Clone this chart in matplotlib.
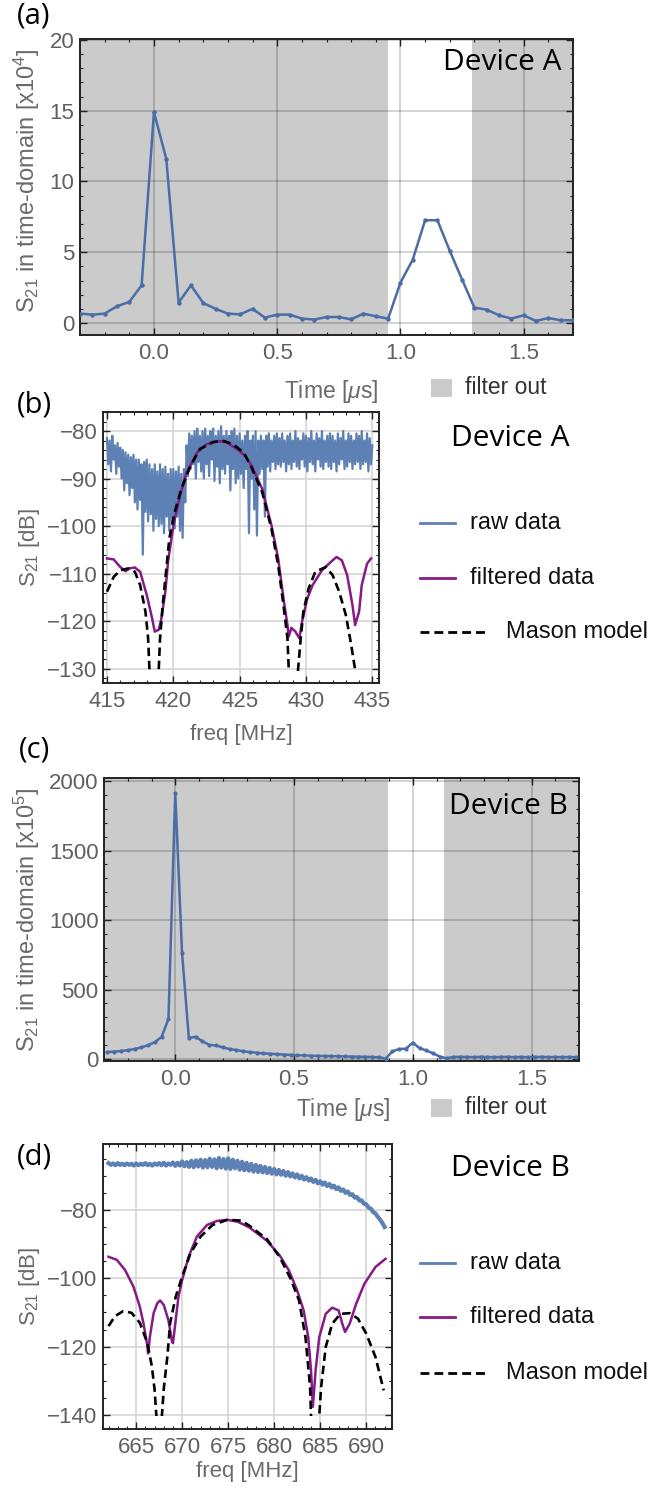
import numpy as np
import matplotlib
matplotlib.use("Agg")
import matplotlib.pyplot as plt
from matplotlib.patches import Rectangle
from matplotlib.lines import Line2D
from matplotlib.ticker import MultipleLocator, FormatStrFormatter

# ---- (a) Device A, time domain (x1e4) ----
t_a = np.round(np.arange(-0.30, 1.701, 0.05), 2)
s21_time_a = [0.66, 0.59, 0.66, 1.18, 1.49, 2.66,
              14.9, 11.6, 1.44, 2.66, 1.41, 1.0, 0.66, 0.61, 1.0, 0.38,
              0.59, 0.59, 0.31, 0.24, 0.42, 0.42, 0.26, 0.66, 0.47, 0.31,
              2.85, 4.48, 7.26, 7.26, 5.1, 3.07, 1.08, 0.94, 0.54, 0.31,
              0.54, 0.14, 0.35, 0.19, 0.19]
filter_out_a = [(-0.30, 0.95), (1.29, 1.70)]

# ---- (b) Device A, frequency domain ----
freq_raw_b = np.round(np.arange(415.0, 435.01, 0.1), 1)
s21_raw_b = [
    -81.5, -87.0, -82.0, -88.5, -81.0, -86.0, -83.0, -89.0, -82.5, -87.5,
    -83.5, -90.0, -84.0, -92.5, -84.5, -91.0, -85.0, -93.5, -85.5, -92.0,
    -85.0, -95.0, -86.0, -96.5, -86.0, -94.5, -87.0, -106.0, -86.5, -97.0,
    -86.0, -99.0, -87.0, -97.5, -88.0, -101.0, -87.0, -98.5, -88.5, -100.0,
    -87.0, -99.5, -88.0, -101.5, -87.5, -98.0, -89.0, -101.0, -88.0, -99.0,
    -88.0, -100.5, -88.5, -98.0, -87.5, -101.0, -89.0, -102.5, -88.0, -95.0,
    -83.0, -89.5, -80.5, -88.0, -81.0, -87.0, -80.0, -90.0, -79.5, -86.5,
    -81.0, -88.5, -80.0, -90.0, -79.5, -87.0, -81.0, -89.5, -80.0, -86.0,
    -79.5, -90.5, -81.0, -87.5, -80.0, -91.0, -79.0, -88.0, -81.0, -89.0,
    -80.0, -87.0, -81.0, -92.5, -80.0, -88.0, -79.5, -91.0, -81.0, -90.0,
    -80.5, -89.0, -82.0, -92.0, -81.0, -88.0, -80.0, -101.5, -82.0, -90.0,
    -81.0, -96.5, -80.0, -102.0, -82.0, -89.0, -81.0, -88.0, -82.0, -98.0,
    -81.0, -87.5, -80.5, -88.5, -82.0, -86.5, -81.0, -88.0, -80.5, -87.0,
    -81.5, -87.5, -80.5, -86.5, -82.0, -88.5, -81.0, -87.0, -80.5, -88.0,
    -82.0, -86.5, -80.0, -87.5, -81.5, -88.0, -82.0, -86.0, -80.5, -87.5,
    -81.0, -88.5, -81.5, -86.5, -80.0, -87.0, -82.0, -88.5, -80.5, -86.0,
    -81.5, -87.5, -80.0, -88.0, -82.0, -86.5, -81.0, -87.5, -80.5, -88.0,
    -81.0, -86.5, -82.0, -88.5, -80.5, -87.0, -81.5, -86.0, -80.0, -88.0,
    -82.0, -87.5, -80.5, -86.5, -81.0, -88.0, -82.0, -87.0, -80.5, -86.5,
    -81.0, -88.0, -80.0, -87.0, -82.0, -86.5, -80.5, -88.5, -81.5, -87.0,
    -83.0]

freq_filt_b = [415.0, 415.5, 416.0, 416.4, 416.7, 417.1, 417.5, 418.0, 418.4, 418.6,
               418.9, 419.1, 419.4, 419.6, 420.0, 420.5, 421.0, 421.8, 422.5, 423.4,
               424.0, 424.8, 425.4, 425.9, 426.7, 427.4, 427.9, 428.3, 428.6, 428.7,
               428.9, 429.2, 429.5, 429.7, 430.1, 430.5, 431.2, 432.0, 432.3, 432.7,
               433.1, 433.5, 433.7, 434.0, 434.2, 434.6, 434.9]
s21_filt_b = [-106.8, -107.0, -108.6, -109.5, -108.9, -108.7, -109.6, -114.5, -119.4, -122.2,
              -121.8, -119.4, -113.8, -107.5, -99.9, -93.6, -88.7, -84.5, -82.8, -82.1,
              -82.4, -83.8, -85.2, -87.3, -92.2, -99.9, -106.8, -115.2, -120.8, -123.2,
              -121.4, -122.2, -123.6, -120.1, -115.2, -112.4, -109.3, -107.2, -106.5, -107.2,
              -110.3, -116.6, -120.8, -118.0, -112.4, -107.9, -106.8]

freq_mason_b = [415.0, 415.5, 416.0, 416.6, 417.1, 417.5, 417.9, 418.1, 418.2, 418.55,
                418.9, 419.0, 419.2, 419.5, 419.7, 420.1, 420.6, 421.3, 422.0, 423.0,
                423.8, 424.5, 425.3, 425.9, 426.7, 427.4, 427.9, 428.3, 428.6, 428.7,
                429.05, 429.4, 429.6, 429.8, 430.2, 430.7, 431.5, 432.0, 432.5, 433.0,
                433.4, 433.7, 434.1, 434.6, 435.0]
s21_mason_b = [-113.8, -110.7, -109.3, -108.9, -109.6, -112.4, -118.0, -123.6, -130.2, -150.0,
               -130.2, -123.6, -116.6, -108.2, -102.6, -97.1, -92.2, -87.3, -83.8, -82.3,
               -82.1, -82.8, -84.5, -87.7, -92.9, -100.6, -108.2, -116.6, -123.6, -130.2,
               -150.0, -130.2, -123.6, -118.0, -113.1, -109.6, -108.6, -110.3, -113.8, -118.7,
               -124.9, -130.2, -150.0, -140.0, -136.0]

# ---- (c) Device B, time domain (x1e5) ----
t_c = np.arange(-10, 60) / 35.0
s21_time_c = [50, 54, 58, 64, 72, 84, 100, 122, 160, 290,
              1915, 765, 152, 160, 128, 102, 98, 84, 72, 65,
              56, 50, 45, 41, 38, 35, 32, 30, 28, 26,
              24, 23, 22, 21, 20, 19, 18, 17, 16, 15,
              13, 3, 55, 72, 75, 118, 78, 62, 40, 18,
              5, 15, 16, 15, 14, 16, 15, 14, 15, 16,
              14, 15, 14, 15, 16, 14, 15, 14, 15, 14]
filter_out_c = [(-0.30, 0.894), (1.13, 1.70)]

# ---- (d) Device B, frequency domain ----
freq_raw_d = np.arange(662.0, 692.01, 0.25)
s21_raw_d = [
    -66.3, -66.8, -66.4, -66.9, -66.3, -66.8, -66.5, -66.9, -66.4, -66.8,
    -66.5, -67.0, -66.4, -66.9, -66.5, -66.8, -66.3, -66.9, -66.5, -67.0,
    -66.4, -66.8, -66.3, -66.9, -66.2, -67.0, -66.4, -66.8, -66.1, -67.1,
    -66.2, -67.0,
    -65.8, -67.2, -66.0, -67.4, -65.6, -67.5, -65.5, -67.3, -65.3, -67.6,
    -65.4, -67.5, -65.0, -67.4, -65.2, -67.8, -64.8, -67.6, -65.1, -67.9,
    -64.9, -68.0, -65.3, -67.8, -65.6, -68.2, -65.9, -68.4, -66.2, -68.5,
    -66.5, -68.8,
    -66.8, -68.9, -67.1, -69.0, -67.4, -69.2, -67.7, -69.4, -68.0, -69.6,
    -68.3, -69.7, -68.6, -70.0, -68.9, -70.2, -69.3, -70.5, -69.6, -70.8,
    -70.0, -71.1, -70.4, -71.4, -70.8, -71.8, -71.2, -72.2, -71.6, -72.6,
    -72.0, -73.0,
    -72.4, -73.4, -72.9, -73.9, -73.4, -74.4, -74.0, -75.0, -74.6, -75.6,
    -75.4, -76.4, -76.2, -77.2, -77.2, -78.2, -78.3, -79.3, -79.6, -80.6,
    -81.0, -82.0, -82.8, -83.8, -85.0]

freq_filt_d = [662.0, 662.9, 663.8, 664.7, 665.4, 665.8, 666.2, 666.3, 666.5, 666.9,
               667.3, 667.6, 668.0, 668.5, 668.9, 669.0, 669.3, 669.6, 670.0, 670.7,
               671.6, 672.7, 673.8, 674.9, 676.0, 677.3, 679.2, 680.6, 681.6, 682.5,
               683.2, 683.7, 684.0, 684.2, 684.5, 684.9, 685.6, 686.3, 687.0, 687.4,
               687.7, 688.2, 688.9, 689.8, 691.0, 692.1]
s21_filt_d = [-93.7, -94.6, -97.6, -102.4, -108.3, -113.2, -119.5, -122.0, -117.0, -110.2,
              -107.3, -106.5, -107.8, -112.2, -118.5, -119.0, -112.2, -105.4, -100.5, -93.7,
              -87.8, -84.4, -83.2, -82.9, -83.4, -85.1, -89.0, -93.3, -97.7, -103.6,
              -109.4, -117.2, -126.9, -137.6, -126.9, -117.2, -110.4, -108.6, -109.4, -113.3,
              -115.7, -113.3, -107.5, -101.6, -96.7, -94.3]

freq_mason_d = [662.0, 662.7, 663.6, 664.5, 665.4, 666.2, 666.7, 667.0, 667.2, 667.5,
                667.8, 668.0, 668.4, 668.7, 669.3, 670.0, 670.9, 672.0, 673.3, 674.9,
                676.4, 677.3, 679.2, 680.6, 681.8, 682.7, 683.4, 683.9, 684.0, 684.45,
                684.9, 685.1, 685.6, 686.3, 687.2, 688.2, 689.1, 690.0, 691.0, 691.9]
s21_mason_d = [-114.0, -111.1, -109.6, -110.1, -113.0, -118.8, -125.6, -132.4, -140.2, -155.0,
               -140.2, -132.4, -122.7, -113.0, -105.4, -99.5, -92.7, -87.8, -84.4, -82.9,
               -83.1, -84.6, -88.5, -93.8, -100.2, -106.5, -117.2, -131.8, -140.2, -155.0,
               -140.2, -131.8, -120.1, -113.3, -110.4, -110.2, -111.8, -116.2, -123.0, -132.8]

legend_labels = ["raw data", "filtered data", "Mason model"]

# ---- style ----
TIME_C = "#4A6DA7"
RAW_C = "#5E81B5"
FILT_C = "#861A86"
SHADE_C = "#CBCBCB"
TICK_C = "#606060"
LABEL_C = "#6A6A6A"

plt.rcParams.update({
    "font.family": ["Liberation Sans", "DejaVu Sans"],
    "mathtext.fontset": "custom",
    "mathtext.rm": "Liberation Sans",
    "mathtext.it": "Liberation Sans:italic",
    "axes.linewidth": 1.4,
    "axes.edgecolor": "#222222",
})

W, H = 671, 1494
fig = plt.figure(figsize=(W / 100, H / 100), dpi=100)


def rect(l, t, r, b):
    return [l / W, 1 - b / H, (r - l) / W, (b - t) / H]


def style_axes(ax, grid_kw):
    ax.grid(True, **grid_kw)
    ax.tick_params(which="both", direction="in", top=True, right=True,
                   color="#222222", labelcolor=TICK_C, labelsize=16)
    ax.tick_params(which="major", length=5, width=1.0)
    ax.tick_params(which="minor", length=2.5, width=0.8)
    ax.tick_params(axis="y", pad=4)
    ax.tick_params(axis="x", pad=6)


shade_grid = dict(color="black", alpha=0.22, linewidth=1.1)
light_grid = dict(color="#D2D2D2", linewidth=1.1)

# (a)
ax_a = fig.add_axes(rect(80, 39, 573, 335))
for x0, x1 in filter_out_a:
    ax_a.axvspan(x0, x1, color=SHADE_C, lw=0, zorder=0.5)
ax_a.plot(t_a, s21_time_a, color=TIME_C, lw=1.8, marker="o", ms=2.2, zorder=3)
ax_a.set_xlim(-0.3, 1.7)
ax_a.set_ylim(-0.85, 20.07)
ax_a.set_xticks([0.0, 0.5, 1.0, 1.5])
ax_a.xaxis.set_major_formatter(FormatStrFormatter("%.1f"))
ax_a.xaxis.set_minor_locator(MultipleLocator(0.1))
ax_a.set_yticks([0, 5, 10, 15, 20])
ax_a.yaxis.set_minor_locator(MultipleLocator(1))
style_axes(ax_a, shade_grid)
ax_a.set_xlabel(r"Time [$\mu$s]", fontsize=16.5, color=LABEL_C)
ax_a.xaxis.set_label_coords(0.509, -0.145)
ax_a.set_ylabel(r"S$_{21}$ in time-domain [x10$^{4}$]", fontsize=17, color=LABEL_C)
ax_a.yaxis.set_label_coords(-0.077, 0.52)
ax_a.text(0.977, 0.968, "Device A", transform=ax_a.transAxes, ha="right", va="top",
          fontsize=21.5, family="Open Sans", color="black")

# (b)
ax_b = fig.add_axes(rect(103, 412, 379, 683))
ax_b.plot(freq_raw_b, s21_raw_b, color=RAW_C, lw=1.6, zorder=2)
ax_b.plot(freq_filt_b, s21_filt_b, color=FILT_C, lw=1.8, zorder=3)
mb, = ax_b.plot(freq_mason_b, s21_mason_b, color="black", lw=1.9, dashes=(3.2, 1.8), zorder=4)
mb.set_clip_path(Rectangle((414, -130.4), 30, 60, transform=ax_b.transData))
ax_b.set_xlim(414.7, 435.5)
ax_b.set_ylim(-133, -76)
ax_b.set_xticks([415, 420, 425, 430, 435])
ax_b.set_yticks([-80, -90, -100, -110, -120, -130])
ax_b.xaxis.set_minor_locator(MultipleLocator(1))
ax_b.yaxis.set_minor_locator(MultipleLocator(2))
style_axes(ax_b, light_grid)
ax_b.set_xlabel("freq [MHz]", fontsize=16, color=LABEL_C)
ax_b.xaxis.set_label_coords(0.5, -0.15)
ax_b.set_ylabel(r"S$_{21}$ [dB]", fontsize=16, color=LABEL_C)
ax_b.yaxis.set_label_coords(-0.221, 0.5)

# (c)
ax_c = fig.add_axes(rect(104, 778, 579, 1061))
for x0, x1 in filter_out_c:
    ax_c.axvspan(x0, x1, color=SHADE_C, lw=0, zorder=0.5)
ax_c.plot(t_c, s21_time_c, color=TIME_C, lw=1.8, marker="o", ms=2.0, zorder=3)
ax_c.set_xlim(-0.3, 1.7)
ax_c.set_ylim(-14, 2022)
ax_c.set_xticks([0.0, 0.5, 1.0, 1.5])
ax_c.xaxis.set_major_formatter(FormatStrFormatter("%.1f"))
ax_c.xaxis.set_minor_locator(MultipleLocator(0.1))
ax_c.set_yticks([0, 500, 1000, 1500, 2000])
ax_c.yaxis.set_minor_locator(MultipleLocator(100))
style_axes(ax_c, shade_grid)
ax_c.set_xlabel(r"Time [$\mu$s]", fontsize=16.5, color=LABEL_C)
ax_c.xaxis.set_label_coords(0.503, -0.125)
ax_c.set_ylabel(r"S$_{21}$ in time-domain [x10$^{5}$]", fontsize=17, color=LABEL_C)
ax_c.yaxis.set_label_coords(-0.131, 0.5)
ax_c.text(0.977, 0.95, "Device B", transform=ax_c.transAxes, ha="right", va="top",
          fontsize=21.5, family="Open Sans", color="black")

# (d)
ax_d = fig.add_axes(rect(103, 1144, 392, 1429))
ax_d.plot(freq_raw_d, s21_raw_d, color=RAW_C, lw=3.0, zorder=2)
ax_d.plot(freq_filt_d, s21_filt_d, color=FILT_C, lw=1.8, zorder=3)
md, = ax_d.plot(freq_mason_d, s21_mason_d, color="black", lw=1.9, dashes=(3.2, 1.8), zorder=4)
md.set_clip_path(Rectangle((660, -140.4), 40, 90, transform=ax_d.transData))
ax_d.set_xlim(661.4, 692.8)
ax_d.set_ylim(-144.1, -60.7)
ax_d.set_xticks([665, 670, 675, 680, 685, 690])
ax_d.set_yticks([-80, -100, -120, -140])
ax_d.xaxis.set_minor_locator(MultipleLocator(1))
ax_d.yaxis.set_minor_locator(MultipleLocator(5))
style_axes(ax_d, light_grid)
ax_d.set_xlabel("freq [MHz]", fontsize=16, color=LABEL_C)
ax_d.xaxis.set_label_coords(0.5, -0.114)
ax_d.set_ylabel(r"S$_{21}$ [dB]", fontsize=16, color=LABEL_C)
ax_d.yaxis.set_label_coords(-0.211, 0.5)

# panel letters
for letter, yc in zip(["(a)", "(b)", "(c)", "(d)"], [16, 405, 750, 1157]):
    fig.text(34 / W, 1 - yc / H, letter, ha="center", va="center",
             fontsize=21, family="Open Sans")

# "filter out" keys under the time-domain panels
for yc in [388, 1108]:
    fig.add_artist(Rectangle((431 / W, 1 - (yc + 9) / H), 21 / W, 18 / H,
                             transform=fig.transFigure, color=SHADE_C, lw=0))
    fig.text(465 / W, 1 - yc / H, "filter out", ha="left", va="center",
             fontsize=16.5, color="#333333")

# legends to the right of the frequency panels
legend_styles = [dict(color=RAW_C, lw=2.0),
                 dict(color=FILT_C, lw=2.0),
                 dict(color="black", lw=2.0, dashes=(3.2, 1.8))]
for title, ty, rows in [("Device A", 439, [523, 578, 632]),
                        ("Device B", 1168, [1263, 1317, 1373])]:
    fig.text(510 / W, 1 - ty / H, title, ha="center", va="center",
             fontsize=21.5, family="Open Sans")
    for label, yc, kw in zip(legend_labels, rows, legend_styles):
        x1, xt = (487, 506) if label == "Mason model" else (455, 470)
        fig.add_artist(Line2D([420 / W, x1 / W], [1 - yc / H] * 2,
                              transform=fig.transFigure, **kw))
        fig.text(xt / W, 1 - yc / H, label, ha="left", va="center",
                 fontsize=17, color="#111111")

fig.savefig("out.png", dpi=100)
plt.close(fig)
